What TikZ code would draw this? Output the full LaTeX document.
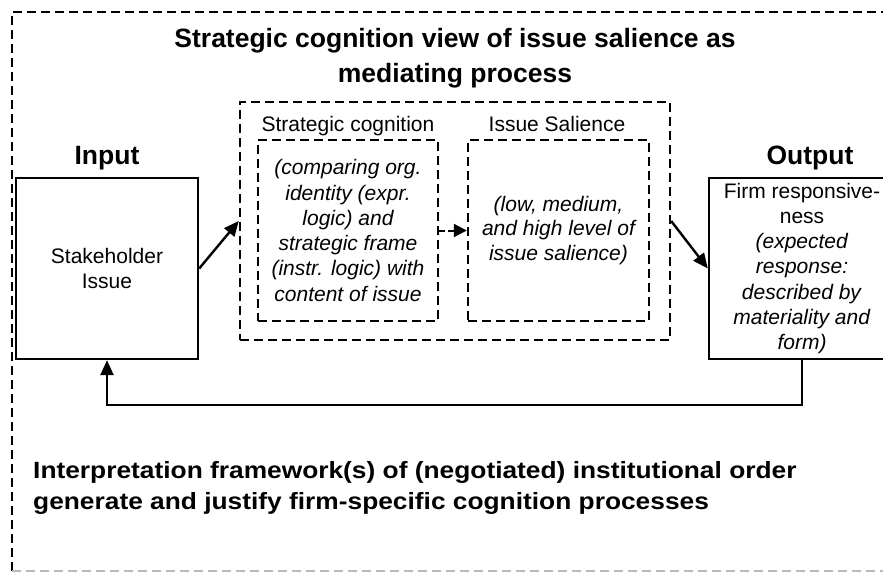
\documentclass[tikz,border=0pt]{standalone}
\usepackage{fontspec}
\setmainfont{Liberation Sans}
\newfontfamily\widefont[FakeStretch=1.12]{Liberation Sans}
\usetikzlibrary{arrows.meta}
\tikzset{
  txt/.style={font=\fontsize{21}{25.3}\selectfont},
  solidbox/.style={draw, line width=2.4pt, inner sep=0pt, align=center, txt},
  dashbox/.style={draw, line width=2.4pt, dash pattern=on 9pt off 5pt, inner sep=0pt, align=center, txt},
  arr/.style={line width=2.4pt, -{Triangle[length=15pt,width=13pt]}},
  head/.style={font=\bfseries\fontsize{26.5}{35}\selectfont, inner sep=0pt},
  lbl/.style={txt, inner sep=0pt, anchor=base}
}
\begin{document}
\begin{tikzpicture}[x=1pt,y=-1pt]
\useasboundingbox (0,0) rectangle (883,572);
\clip (0,0) rectangle (883,572);
% outer frame
\draw[line width=2.4pt, dash pattern=on 9pt off 5pt] (12,571) -- (12,12) -- (900,12);
\draw[line width=2.4pt, gray!55, dash pattern=on 9pt off 5pt] (12,571) -- (900,571);
% title
\node[head, align=center, anchor=north] (title) at (455,28.5) {Strategic cognition view of issue salience as\\mediating process};
% middle dashed group
\node[dashbox, minimum width=430pt, minimum height=238pt] (mid) at (455,221) {};
\node[lbl] (l1) at (348,132) {Strategic cognition};
\node[lbl] (l2) at (557,132) {Issue Salience};
\node[dashbox, minimum width=180pt, minimum height=181pt, font=\itshape\fontsize{21}{25.3}\selectfont] (b1) at (348,230.5)
  {(comparing org.\\identity (expr.\\logic) and\\strategic frame\\(instr. logic) with\\content of issue};
\node[dashbox, minimum width=181pt, minimum height=181pt, font=\itshape\fontsize{21}{24.5}\selectfont] (b2) at (558.5,230.5)
  {(low, medium,\\and high level of\\issue salience)};
% input / output
\node[head, anchor=base] (inlbl) at (107,165) {Input};
\node[head, anchor=base] (outlbl) at (810,165) {Output};
\node[solidbox, minimum width=182pt, minimum height=181pt] (in) at (107,268.5) {Stakeholder\\Issue};
\node[solidbox, minimum width=186pt, minimum height=181pt] (out) at (802,268.5)
  {Firm responsive-\\ness\\\textit{(expected}\\\textit{response:}\\\textit{described by}\\\textit{materiality and}\\\textit{form)}};
% connectors
\draw[arr] (in.east) -- (mid.west);
\draw[arr] (mid.east) -- (out.west);
\draw[line width=2pt, dash pattern=on 6pt off 3pt, -{Triangle[length=13pt,width=13pt]}] (b1.east) -- (b2.west);
\coordinate (fbR) at (802,405);
\coordinate (fbL) at (107,405);
\draw[arr] (out.south) -- (fbR) -- (fbL) -- (in.south);
% bottom text
\node[anchor=north west, align=left, inner sep=0pt, font=\widefont\bfseries\fontsize{23.5}{31}\selectfont] (bottom) at (33,461)
  {Interpretation framework(s) of (negotiated) institutional order\\generate and justify firm-specific cognition processes};
\end{tikzpicture}
\end{document}
